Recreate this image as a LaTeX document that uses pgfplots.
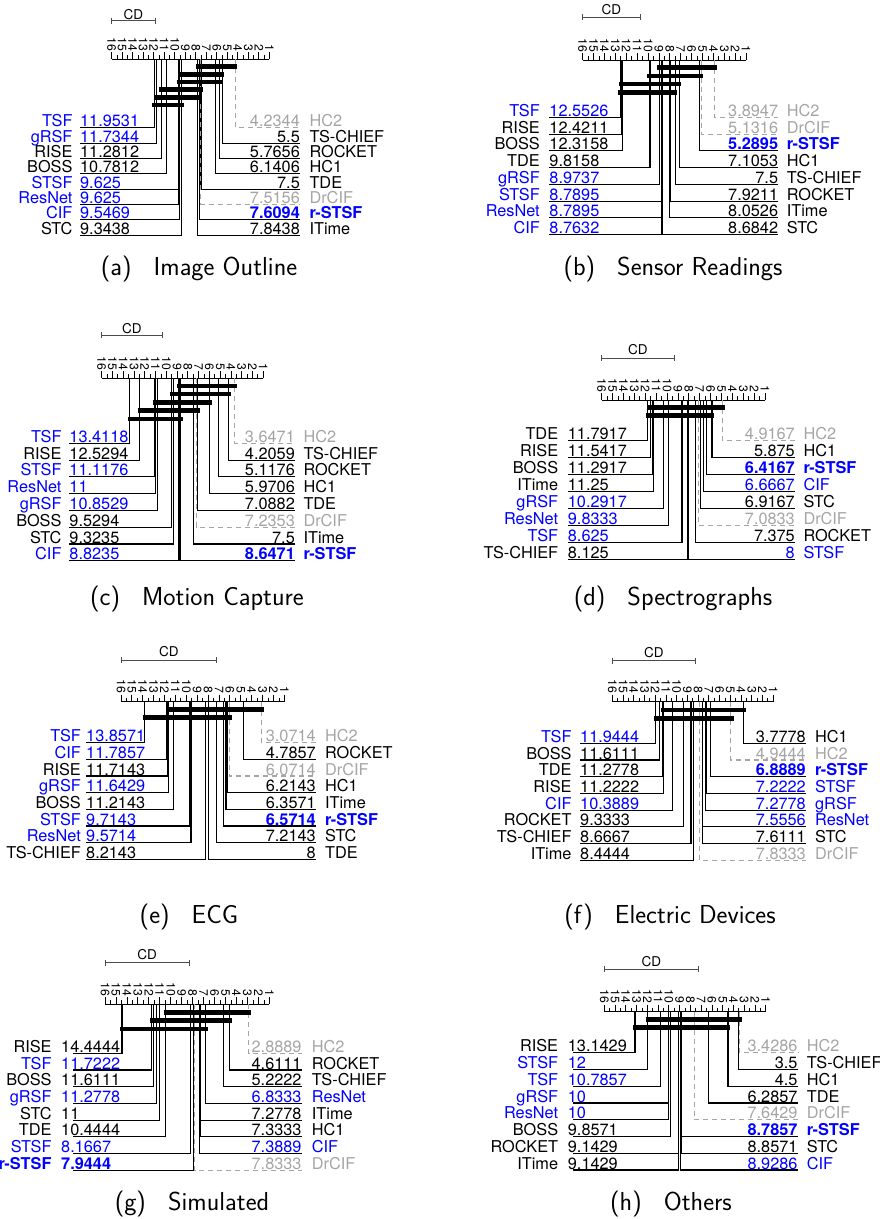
\documentclass[border=0pt]{standalone}
\usepackage{fontspec}
\usepackage{pgfplots}
\pgfplotsset{compat=1.18}
\newfontfamily\hv{TeX Gyre Heros}
\definecolor{cdblue}{RGB}{0,0,255}
\definecolor{cdgray}{RGB}{165,165,165}
\tikzset{
 lab/.style={inner sep=0pt, font=\hv\fontsize{16.3}{18}\selectfont},
 txtN/.style={lab, text=black},
 txtB/.style={lab, text=cdblue},
 txtBB/.style={lab, text=cdblue, font=\hv\bfseries\fontsize{16.3}{18}\selectfont},
 txtG/.style={lab, text=cdgray},
 lnN/.style={draw=black, line width=1.1pt},
 lnB/.style={lnN}, lnBB/.style={lnN},
 lnG/.style={draw=cdgray, line width=1.1pt, dash pattern=on 5pt off 4pt},
 cdl/.style={draw=black!70, line width=0.9pt, mark=|, mark size=3pt, mark options={solid, draw=black!70, line width=0.9pt}},
 captxt/.style={font=\sffamily\fontsize{26}{26}\selectfont, anchor=base},
}
\pgfplotsset{
 cdaxis/.style={
   anchor=north west, xmin=1, xmax=16, x dir=reverse, ymin=-195, ymax=0, y=1pt,
   enlargelimits=false, clip=false,
   axis x line=top, axis y line=none, axis line style={-, black, line width=0.9pt},
   xtick={1,...,16}, minor x tick num=1, tick align=outside,
   major tick length=7pt, minor tick length=4pt,
   every tick/.style={black, line width=0.8pt},
   xticklabel style={font=\hv\fontsize{12.2}{12}\selectfont, rotate=-90, anchor=east, inner sep=1pt},
   /pgf/number format/assume math mode=true,
 },
}
\newcommand\Lrow[4]{%
 \addplot[ln#4] coordinates {(#2,0) (#2,#1) (\Lline,#1)};
 \node[txt#4, anchor=base west, yshift=1pt] at (axis cs:\Lnum,#1) {#2};
 \node[txt#4, anchor=base east, yshift=1pt, xshift=-\gapL pt] at (axis cs:\Lnum,#1) {#3};
}
\newcommand\Rrow[4]{%
 \addplot[ln#4] coordinates {(#2,0) (#2,#1) (\Rline,#1)};
 \node[txt#4, anchor=base east, yshift=1pt] at (axis cs:\Rline,#1) {#2};
 \node[txt#4, anchor=base west, yshift=1pt, xshift=\gapR pt] at (axis cs:\Rline,#1) {#3};
}
\newcommand\Clq[3]{\addplot[black, line width=4.8pt] coordinates {(#2,#1) (#3,#1)};}
\newcommand\CDbar[4]{%
 \addplot[cdl] coordinates {(16,#1) (#2,#1)};
 \node[font=\hv\fontsize{13.5}{13.5}\selectfont, inner sep=0pt] at (axis cs:#3,#4) {CD};
}
\newcommand\Cap[2]{(#1)\hspace{0.85em}#2}
\begin{document}
\begin{tikzpicture}
\useasboundingbox (0,0) rectangle (880pt,-1219pt);
% ---------------- (a)
\def\Lline{19.02}\def\Lnum{19.02}\def\gapL{7.3}\def\Rline{-1.92}\def\gapR{9.3}
\begin{axis}[cdaxis, at={(111.7pt,-59.3pt)}, x=10.51pt]
\CDbar{38.6}{11.88}{13.94}{45.2}
\Lrow{-68.4}{11.9531}{TSF}{B}
\Lrow{-83.8}{11.7344}{gRSF}{B}
\Lrow{-99.1}{11.2812}{RISE}{N}
\Lrow{-114.5}{10.7812}{BOSS}{N}
\Lrow{-129.9}{9.625}{STSF}{B}
\Lrow{-145.2}{9.625}{ResNet}{B}
\Lrow{-160.6}{9.5469}{CIF}{B}
\Lrow{-176.0}{9.3438}{STC}{N}
\Rrow{-68.4}{4.2344}{HC2}{G}
\Rrow{-83.8}{5.5}{TS-CHIEF}{N}
\Rrow{-99.1}{5.7656}{ROCKET}{N}
\Rrow{-114.5}{6.1406}{HC1}{N}
\Rrow{-129.9}{7.5}{TDE}{N}
\Rrow{-145.2}{7.5156}{DrCIF}{G}
\Rrow{-160.6}{7.6094}{r-STSF}{BB}
\Rrow{-176.0}{7.8438}{ITime}{N}
\Clq{-7.4}{7.98}{4.05}
\Clq{-15.1}{9.72}{5.31}
\Clq{-22.7}{9.82}{5.44}
\Clq{-30.4}{11.47}{7.28}
\Clq{-38.0}{11.98}{7.47}
\Clq{-45.7}{12.13}{9.12}
\end{axis}
% ---------------- (b)
\def\Lline{19.07}\def\Lnum{19.07}\def\gapL{9.3}\def\Rline{-1.96}\def\gapR{8.4}
\begin{axis}[cdaxis, at={(582.7pt,-60pt)}, x=10.89pt]
\CDbar{42.7}{10.74}{13.37}{50}
\Lrow{-57.3}{12.5526}{TSF}{B}
\Lrow{-74.1}{12.4211}{RISE}{N}
\Lrow{-90.8}{12.3158}{BOSS}{N}
\Lrow{-107.6}{9.8158}{TDE}{N}
\Lrow{-124.4}{8.9737}{gRSF}{B}
\Lrow{-141.1}{8.7895}{STSF}{B}
\Lrow{-157.9}{8.7895}{ResNet}{B}
\Lrow{-174.7}{8.7632}{CIF}{B}
\Rrow{-57.3}{3.8947}{HC2}{G}
\Rrow{-74.1}{5.1316}{DrCIF}{G}
\Rrow{-90.8}{5.2895}{r-STSF}{BB}
\Rrow{-107.6}{7.1053}{HC1}{N}
\Rrow{-124.4}{7.5}{TS-CHIEF}{N}
\Rrow{-141.1}{7.9211}{ROCKET}{N}
\Rrow{-157.9}{8.0526}{ITime}{N}
\Rrow{-174.7}{8.6842}{STC}{N}
\Clq{-7.7}{9.20}{3.70}
\Clq{-16.0}{10.07}{4.92}
\Clq{-24.0}{12.67}{6.95}
\Clq{-32.3}{12.79}{7.31}
\end{axis}
% ---------------- (c)
\def\Lline{19.01}\def\Lnum{19.01}\def\gapL{7.6}\def\Rline{-1.95}\def\gapR{8.3}
\begin{axis}[cdaxis, at={(101.7pt,-378.3pt)}, x=10.77pt]
\CDbar{43.3}{10.37}{13.19}{50}
\Lrow{-65.0}{13.4118}{TSF}{B}
\Lrow{-81.8}{12.5294}{RISE}{N}
\Lrow{-98.6}{11.1176}{STSF}{B}
\Lrow{-115.3}{11}{ResNet}{B}
\Lrow{-132.1}{10.8529}{gRSF}{B}
\Lrow{-148.9}{9.5294}{BOSS}{N}
\Lrow{-165.7}{9.3235}{STC}{N}
\Lrow{-182.5}{8.8235}{CIF}{B}
\Rrow{-65.0}{3.6471}{HC2}{G}
\Rrow{-81.8}{4.2059}{TS-CHIEF}{N}
\Rrow{-98.6}{5.1176}{ROCKET}{N}
\Rrow{-115.3}{5.9706}{HC1}{N}
\Rrow{-132.1}{7.0882}{TDE}{N}
\Rrow{-148.9}{7.2353}{DrCIF}{G}
\Rrow{-165.7}{7.5}{ITime}{N}
\Rrow{-182.5}{8.6471}{r-STSF}{BB}
\Clq{-7.7}{8.98}{3.41}
\Clq{-15.7}{9.66}{4.02}
\Clq{-24.0}{11.26}{5.76}
\Clq{-32.4}{12.66}{6.84}
\Clq{-40.7}{13.53}{8.42}
\end{axis}
% ---------------- (d)
\def\Lline{19.12}\def\Lnum{19.12}\def\gapL{9.4}\def\Rline{-1.75}\def\gapR{8.3}
\begin{axis}[cdaxis, at={(601.7pt,-400pt)}, x=10.89pt]
\CDbar{41.7}{9.33}{12.67}{50}
\Lrow{-40.7}{11.7917}{TDE}{N}
\Lrow{-57.6}{11.5417}{RISE}{N}
\Lrow{-74.6}{11.2917}{BOSS}{N}
\Lrow{-91.5}{11.25}{ITime}{N}
\Lrow{-108.5}{10.2917}{gRSF}{B}
\Lrow{-125.4}{9.8333}{ResNet}{B}
\Lrow{-142.3}{8.625}{TSF}{B}
\Lrow{-159.3}{8.125}{TS-CHIEF}{N}
\Rrow{-40.7}{4.9167}{HC2}{G}
\Rrow{-57.6}{5.875}{HC1}{N}
\Rrow{-74.6}{6.4167}{r-STSF}{BB}
\Rrow{-91.5}{6.6667}{CIF}{B}
\Rrow{-108.5}{6.9167}{STC}{N}
\Rrow{-125.4}{7.0833}{DrCIF}{G}
\Rrow{-142.3}{7.375}{ROCKET}{N}
\Rrow{-159.3}{8}{STSF}{B}
\Clq{-7.3}{11.81}{4.68}
\Clq{-15.7}{11.96}{5.68}
\end{axis}
% ---------------- (e)
\def\Lline{19.21}\def\Lnum{19.21}\def\gapL{5}\def\Rline{-1.9}\def\gapR{9}
\begin{axis}[cdaxis, at={(121pt,-701.7pt)}, x=10.89pt]
\CDbar{41.7}{7.21}{11.61}{50}
\Lrow{-41.0}{13.8571}{TSF}{B}
\Lrow{-57.7}{11.7857}{CIF}{B}
\Lrow{-74.3}{11.7143}{RISE}{N}
\Lrow{-91.0}{11.6429}{gRSF}{B}
\Lrow{-107.6}{11.2143}{BOSS}{N}
\Lrow{-124.3}{9.7143}{STSF}{B}
\Lrow{-141.0}{9.5714}{ResNet}{B}
\Lrow{-157.6}{8.2143}{TS-CHIEF}{N}
\Rrow{-41.0}{3.0714}{HC2}{G}
\Rrow{-57.7}{4.7857}{ROCKET}{N}
\Rrow{-74.3}{6.0714}{DrCIF}{G}
\Rrow{-91.0}{6.2143}{HC1}{N}
\Rrow{-107.6}{6.3571}{ITime}{N}
\Rrow{-124.3}{6.5714}{r-STSF}{BB}
\Rrow{-141.0}{7.2143}{STC}{N}
\Rrow{-157.6}{8}{TDE}{N}
\Clq{-7.6}{11.90}{2.84}
\Clq{-16.0}{14.01}{5.84}
\end{axis}
% ---------------- (f)
\def\Lline{19.01}\def\Lnum{19.01}\def\gapL{8.3}\def\Rline{-2.05}\def\gapR{9}
\begin{axis}[cdaxis, at={(612.3pt,-701.7pt)}, x=10.73pt]
\CDbar{41}{8.23}{12.12}{48.9}
\Lrow{-41.6}{11.9444}{TSF}{B}
\Lrow{-58.3}{11.6111}{BOSS}{N}
\Lrow{-75.0}{11.2778}{TDE}{N}
\Lrow{-91.7}{11.2222}{RISE}{N}
\Lrow{-108.4}{10.3889}{CIF}{B}
\Lrow{-125.2}{9.3333}{ROCKET}{N}
\Lrow{-141.9}{8.6667}{TS-CHIEF}{N}
\Lrow{-158.6}{8.4444}{ITime}{N}
\Rrow{-41.6}{3.7778}{HC1}{N}
\Rrow{-58.3}{4.9444}{HC2}{G}
\Rrow{-75.0}{6.8889}{r-STSF}{BB}
\Rrow{-91.7}{7.2222}{STSF}{B}
\Rrow{-108.4}{7.2778}{gRSF}{B}
\Rrow{-125.2}{7.5556}{ResNet}{B}
\Rrow{-141.9}{7.6111}{STC}{N}
\Rrow{-158.6}{7.8333}{DrCIF}{G}
\Clq{-8.3}{11.46}{3.54}
\Clq{-16.6}{12.09}{4.63}
\end{axis}
% ---------------- (g)
\def\Lline{18.95}\def\Lnum{20.01}\def\gapL{9.3}\def\Rline{-1.95}\def\gapR{10}
\begin{axis}[cdaxis, at={(105pt,-1004pt)}, x=10.96pt]
\CDbar{41.3}{8.31}{12.15}{49}
\Lrow{-49.3}{14.4444}{RISE}{N}
\Lrow{-66.0}{11.7222}{TSF}{B}
\Lrow{-82.7}{11.6111}{BOSS}{N}
\Lrow{-99.4}{11.2778}{gRSF}{B}
\Lrow{-116.1}{11}{STC}{N}
\Lrow{-132.9}{10.4444}{TDE}{N}
\Lrow{-149.6}{8.1667}{STSF}{B}
\Lrow{-166.3}{7.9444}{r-STSF}{BB}
\Rrow{-49.3}{2.8889}{HC2}{G}
\Rrow{-66.0}{4.6111}{ROCKET}{N}
\Rrow{-82.7}{5.2222}{TS-CHIEF}{N}
\Rrow{-99.4}{6.8333}{ResNet}{B}
\Rrow{-116.1}{7.2778}{ITime}{N}
\Rrow{-132.9}{7.3333}{HC1}{N}
\Rrow{-149.6}{7.3889}{CIF}{B}
\Rrow{-166.3}{7.8333}{DrCIF}{G}
\Clq{-8.3}{10.62}{2.70}
\Clq{-16.7}{11.89}{4.40}
\Clq{-25.0}{14.63}{6.63}
\end{axis}
% ---------------- (h)
\def\Lline{18.94}\def\Lnum{19.40}\def\gapL{9.4}\def\Rline{-1.97}\def\gapR{9}
\begin{axis}[cdaxis, at={(604.3pt,-1011.7pt)}, x=10.76pt]
\CDbar{42.4}{7.26}{11.63}{49.7}
\Lrow{-41.0}{13.1429}{RISE}{N}
\Lrow{-57.8}{12}{STSF}{B}
\Lrow{-74.5}{10.7857}{TSF}{B}
\Lrow{-91.3}{10}{gRSF}{B}
\Lrow{-108.0}{10}{ResNet}{B}
\Lrow{-124.8}{9.8571}{BOSS}{N}
\Lrow{-141.6}{9.1429}{ROCKET}{N}
\Lrow{-158.3}{9.1429}{ITime}{N}
\Rrow{-41.0}{3.4286}{HC2}{G}
\Rrow{-57.8}{3.5}{TS-CHIEF}{N}
\Rrow{-74.5}{4.5}{HC1}{N}
\Rrow{-91.3}{6.2857}{TDE}{N}
\Rrow{-108.0}{7.6429}{DrCIF}{G}
\Rrow{-124.8}{8.7857}{r-STSF}{BB}
\Rrow{-141.6}{8.8571}{STC}{N}
\Rrow{-158.3}{8.9286}{CIF}{B}
\Clq{-7.6}{12.15}{3.23}
\Clq{-16.0}{13.30}{4.31}
\end{axis}
% ---------------- captions
\node[captxt] at (199pt,-275pt) {\Cap{a}{Image Outline}};
\node[captxt] at (673pt,-275pt) {\Cap{b}{Sensor Readings}};
\node[captxt] at (197pt,-605pt) {\Cap{c}{Motion Capture}};
\node[captxt] at (673pt,-605pt) {\Cap{d}{Spectrographs}};
\node[captxt] at (189pt,-923pt) {\Cap{e}{ECG}};
\node[captxt] at (670pt,-923pt) {\Cap{f}{Electric Devices}};
\node[captxt] at (192pt,-1210pt) {\Cap{g}{Simulated}};
\node[captxt] at (671pt,-1210pt) {\Cap{h}{Others}};
\end{tikzpicture}
\end{document}
